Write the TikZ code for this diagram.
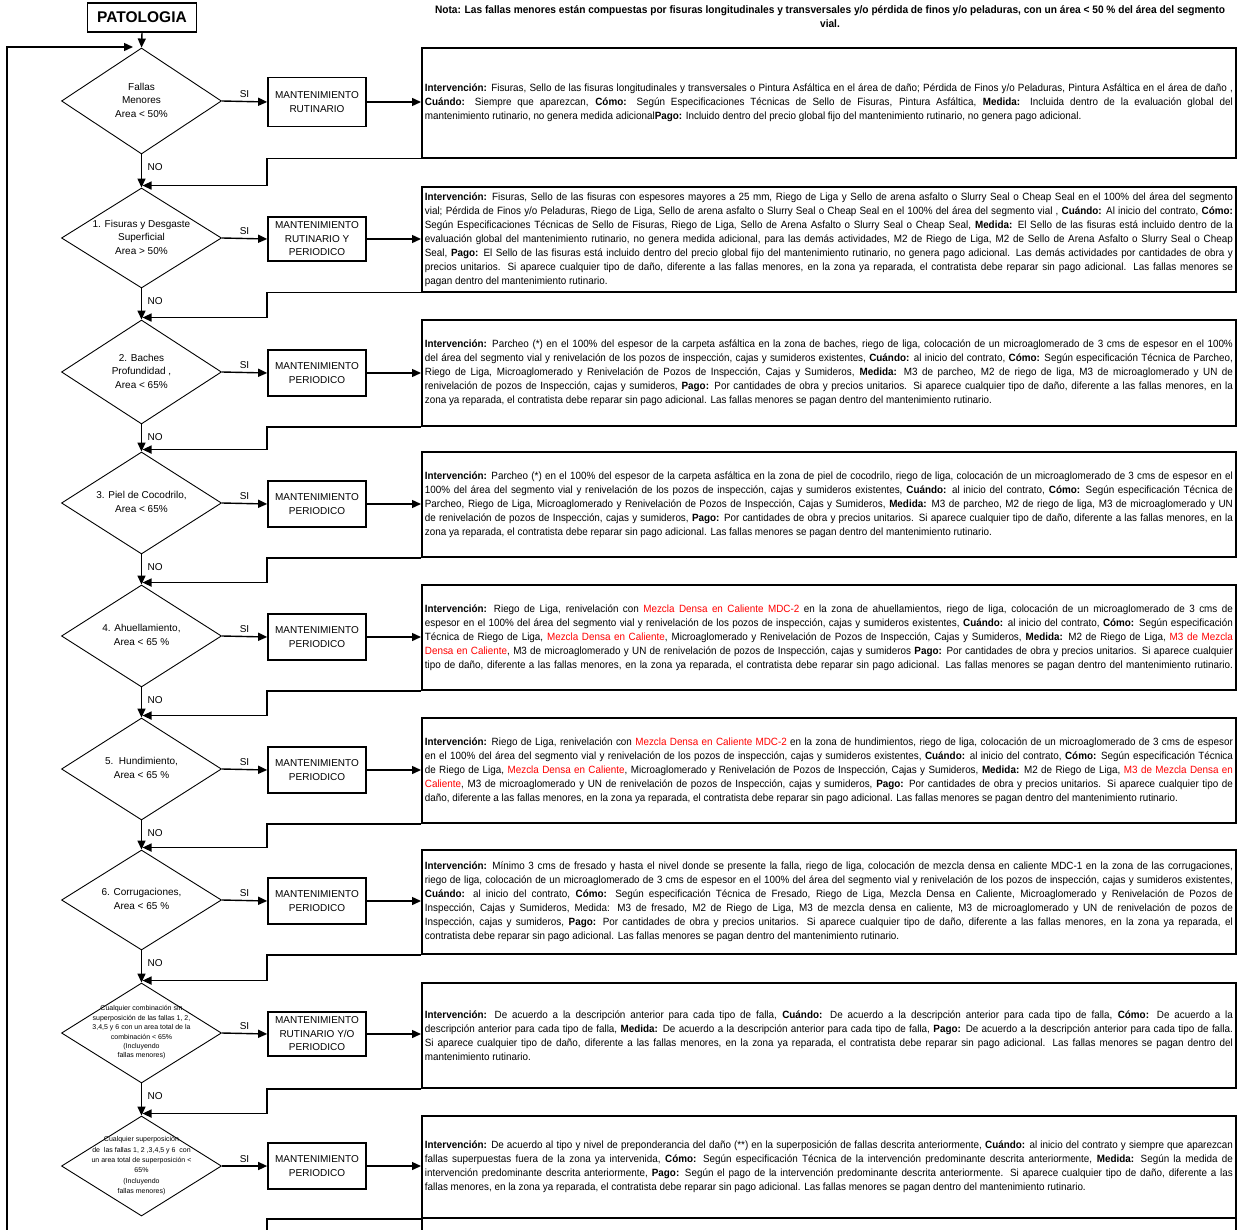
\documentclass[tikz,border=0pt]{standalone}
\usepackage{fontspec}
\setmainfont{Liberation Sans}
\newfontfamily\nfont[FakeStretch=0.94]{Liberation Sans}
\usetikzlibrary{shapes.geometric,arrows.meta}
\newcommand\B[1]{\textbf{#1}}
\newcommand\R[1]{\textcolor{red}{#1}}
\newcommand\JL[1]{\hbox to\hsize{#1}}
\newcommand\LL[1]{\hbox{#1}}
\newcommand\TB[1]{\parbox{808pt}{\nfont\fontsize{10.5}{14}\selectfont #1}}
\newcommand\DT[2]{\makebox[0pt]{\raisebox{\dimexpr 2pt-0.5\height\relax}[0pt][0pt]{#1\begin{tabular}[b]{@{}c@{}}#2\end{tabular}}}}
\newcommand\dfont{\fontsize{10}{13.5}\selectfont}
\newcommand\sdfont{\fontsize{7}{9.4}\selectfont}
\newcommand\sdfontb{\fontsize{7}{10.4}\selectfont}
\tikzset{
  conn/.style={line width=1.4pt,-{Triangle[length=9pt,width=8pt]}},
  plain/.style={line width=1.4pt},
  dec/.style={draw,diamond,line width=0.9pt,minimum width=160pt,inner sep=0pt},
  proc/.style={draw,line width=1.7pt,minimum width=98pt,inner sep=0pt,align=center,font=\fontsize{10}{13.5}\selectfont},
  tbox/.style={draw,line width=1.8pt,minimum width=814pt,inner sep=0pt,anchor=north west},
  lab/.style={font=\fontsize{10}{12}\selectfont,inner sep=0pt}
}
\begin{document}
\begin{tikzpicture}[x=1pt,y=-1pt]
\fill[white] (0,0) rectangle (1244,1230);
\useasboundingbox (0,0) rectangle (1244,1230);

% title and note
\node[draw,line width=1.8pt,minimum width=109pt,minimum height=29pt,inner sep=0pt,font=\fontsize{15.5}{18}\selectfont\bfseries] (pat) at (142,17.5) {PATOLOGIA};
\node[inner sep=0pt] (nota) at (830,17) {\parbox{815pt}{\centering\nfont\bfseries\fontsize{10.8}{14}\selectfont Nota: Las fallas menores están compuestas por fisuras longitudinales y transversales y/o pérdida de finos y/o peladuras, con un área < 50 \% del área del segmento\\vial.}};

% decisions
\node[dec,minimum height=106pt] (d1) at (141.5,101) {\DT{\dfont}{Fallas\\Menores\\Area < 50\%}};
\node[dec,minimum height=100pt] (d2) at (141.5,238) {\DT{\dfont}{1. Fisuras y Desgaste\\Superficial\\Area > 50\%}};
\node[dec,minimum height=104pt] (d3) at (141.5,372) {\DT{\dfont}{2. Baches\\Profundidad ,\\Area < 65\%}};
\node[dec,minimum height=102pt] (d4) at (141.5,503) {\DT{\dfont}{3. Piel de Cocodrilo,\\Area < 65\%}};
\node[dec,minimum height=102pt] (d5) at (141.5,636) {\DT{\dfont}{4. Ahuellamiento,\\Area < 65 \%}};
\node[dec,minimum height=102pt] (d6) at (141.5,769) {\DT{\dfont}{5.\ \ Hundimiento,\\Area < 65 \%}};
\node[dec,minimum height=100pt] (d7) at (141.5,900) {\DT{\dfont}{6. Corrugaciones,\\Area < 65 \%}};
\node[dec,minimum height=100pt] (d8) at (141.5,1033) {\DT{\sdfont}{Cualquier combinación sin\\superposición de las fallas 1, 2,\\3,4,5 y 6 con un area total de la\\combinación < 65\%\\(Incluyendo\\fallas menores)}};
\node[dec,minimum height=100pt] (d9) at (141.5,1166) {\DT{\sdfontb}{Cualquier superposición\\de\ \ las fallas 1, 2 ,3,4,5 y 6\ \ con\\un area total de superposición <\\65\%\\(Incluyendo\\fallas menores)}};

% process boxes
\node[proc,minimum height=49pt] (p1) at (317,102) {MANTENIMIENTO\\RUTINARIO};
\node[proc,minimum height=44pt] (p2) at (317,239) {MANTENIMIENTO\\RUTINARIO Y\\PERIODICO};
\node[proc,minimum height=46pt] (p3) at (317,373) {MANTENIMIENTO\\PERIODICO};
\node[proc,minimum height=46pt] (p4) at (317,504) {MANTENIMIENTO\\PERIODICO};
\node[proc,minimum height=46pt] (p5) at (317,637) {MANTENIMIENTO\\PERIODICO};
\node[proc,minimum height=46pt] (p6) at (317,770) {MANTENIMIENTO\\PERIODICO};
\node[proc,minimum height=46pt] (p7) at (317,901) {MANTENIMIENTO\\PERIODICO};
\node[proc,minimum height=44pt] (p8) at (317,1034) {MANTENIMIENTO\\RUTINARIO Y/O\\PERIODICO};
\node[proc,minimum height=46pt] (p9) at (317,1166) {MANTENIMIENTO\\PERIODICO};

% text boxes
\node[tbox,minimum height=110pt] (t1) at (421,47) {\TB{%
\JL{\B{Intervención:} Fisuras, Sello de las fisuras longitudinales y transversales o Pintura Asfáltica en el área de daño; Pérdida de Finos y/o Peladuras, Pintura Asfáltica en el área de daño ,}
\JL{\B{Cuándo:} Siempre que aparezcan, \B{Cómo:} Según Especificaciones Técnicas de Sello de Fisuras, Pintura Asfáltica, \B{Medida:} Incluida dentro de la evaluación global del}
\LL{mantenimiento rutinario, no genera medida adicional\B{Pago:} Incluido dentro del precio global fijo del mantenimiento rutinario, no genera pago adicional.}}};

\node[tbox,minimum height=105pt] (t2) at (421,186) {\TB{%
\JL{\B{Intervención:} Fisuras, Sello de las fisuras con espesores mayores a 25 mm, Riego de Liga y Sello de arena asfalto o Slurry Seal o Cheap Seal en el 100\% del área del segmento}
\JL{vial; Pérdida de Finos y/o Peladuras, Riego de Liga, Sello de arena asfalto o Slurry Seal o Cheap Seal en el 100\% del área del segmento vial , \B{Cuándo:} Al inicio del contrato, \B{Cómo:}}
\JL{Según Especificaciones Técnicas de Sello de Fisuras, Riego de Liga, Sello de Arena Asfalto o Slurry Seal o Cheap Seal, \B{Medida:} El Sello de las fisuras está incluido dentro de la}
\JL{evaluación global del mantenimiento rutinario, no genera medida adicional, para las demás actividades, M2 de Riego de Liga, M2 de Sello de Arena Asfalto o Slurry Seal o Cheap}
\JL{Seal, \B{Pago:} El Sello de las fisuras está incluido dentro del precio global fijo del mantenimiento rutinario, no genera pago adicional. Las demás actividades por cantidades de obra y}
\JL{precios unitarios. Si aparece cualquier tipo de daño, diferente a las fallas menores, en la zona ya reparada, el contratista debe reparar sin pago adicional. Las fallas menores se}
\LL{pagan dentro del mantenimiento rutinario.}}};

\node[tbox,minimum height=106pt] (t3) at (421,319) {\TB{%
\JL{\B{Intervención:} Parcheo (*) en el 100\% del espesor de la carpeta asfáltica en la zona de baches, riego de liga, colocación de un microaglomerado de 3 cms de espesor en el 100\%}
\JL{del área del segmento vial y renivelación de los pozos de inspección, cajas y sumideros existentes, \B{Cuándo:} al inicio del contrato, \B{Cómo:} Según especificación Técnica de Parcheo,}
\JL{Riego de Liga, Microaglomerado y Renivelación de Pozos de Inspección, Cajas y Sumideros, \B{Medida:} M3 de parcheo, M2 de riego de liga, M3 de microaglomerado y UN de}
\JL{renivelación de pozos de Inspección, cajas y sumideros, \B{Pago:} Por cantidades de obra y precios unitarios. Si aparece cualquier tipo de daño, diferente a las fallas menores, en la}
\LL{zona ya reparada, el contratista debe reparar sin pago adicional. Las fallas menores se pagan dentro del mantenimiento rutinario.}}};

\node[tbox,minimum height=105pt] (t4) at (421,451) {\TB{%
\JL{\B{Intervención:} Parcheo (*) en el 100\% del espesor de la carpeta asfáltica en la zona de piel de cocodrilo, riego de liga, colocación de un microaglomerado de 3 cms de espesor en el}
\JL{100\% del área del segmento vial y renivelación de los pozos de inspección, cajas y sumideros existentes, \B{Cuándo:} al inicio del contrato, \B{Cómo:} Según especificación Técnica de}
\JL{Parcheo, Riego de Liga, Microaglomerado y Renivelación de Pozos de Inspección, Cajas y Sumideros, \B{Medida:} M3 de parcheo, M2 de riego de liga, M3 de microaglomerado y UN}
\JL{de renivelación de pozos de Inspección, cajas y sumideros, \B{Pago:} Por cantidades de obra y precios unitarios. Si aparece cualquier tipo de daño, diferente a las fallas menores, en la}
\LL{zona ya reparada, el contratista debe reparar sin pago adicional. Las fallas menores se pagan dentro del mantenimiento rutinario.}}};

\node[tbox,minimum height=105pt] (t5) at (421,584) {\TB{%
\JL{\B{Intervención:} Riego de Liga, renivelación con \R{Mezcla Densa en Caliente MDC-2} en la zona de ahuellamientos, riego de liga, colocación de un microaglomerado de 3 cms de}
\JL{espesor en el 100\% del área del segmento vial y renivelación de los pozos de inspección, cajas y sumideros existentes, \B{Cuándo:} al inicio del contrato, \B{Cómo:} Según especificación}
\JL{Técnica de Riego de Liga, \R{Mezcla Densa en Caliente}, Microaglomerado y Renivelación de Pozos de Inspección, Cajas y Sumideros, \B{Medida:} M2 de Riego de Liga, \R{M3 de Mezcla}}
\JL{\R{Densa en Caliente}, M3 de microaglomerado y UN de renivelación de pozos de Inspección, cajas y sumideros \B{Pago:} Por cantidades de obra y precios unitarios. Si aparece cualquier}
\JL{tipo de daño, diferente a las fallas menores, en la zona ya reparada, el contratista debe reparar sin pago adicional. Las fallas menores se pagan dentro del mantenimiento rutinario.}}};

\node[tbox,minimum height=105pt] (t6) at (421,717) {\TB{%
\JL{\B{Intervención:} Riego de Liga, renivelación con \R{Mezcla Densa en Caliente MDC-2} en la zona de hundimientos, riego de liga, colocación de un microaglomerado de 3 cms de espesor}
\JL{en el 100\% del área del segmento vial y renivelación de los pozos de inspección, cajas y sumideros existentes, \B{Cuándo:} al inicio del contrato, \B{Cómo:} Según especificación Técnica}
\JL{de Riego de Liga, \R{Mezcla Densa en Caliente}, Microaglomerado y Renivelación de Pozos de Inspección, Cajas y Sumideros, \B{Medida:} M2 de Riego de Liga, \R{M3 de Mezcla Densa en}}
\JL{\R{Caliente}, M3 de microaglomerado y UN de renivelación de pozos de Inspección, cajas y sumideros, \B{Pago:} Por cantidades de obra y precios unitarios. Si aparece cualquier tipo de}
\LL{daño, diferente a las fallas menores, en la zona ya reparada, el contratista debe reparar sin pago adicional. Las fallas menores se pagan dentro del mantenimiento rutinario.}}};

\node[tbox,minimum height=104pt] (t7) at (421,849) {\TB{%
\JL{\B{Intervención:} Mínimo 3 cms de fresado y hasta el nivel donde se presente la falla, riego de liga, colocación de mezcla densa en caliente MDC-1 en la zona de las corrugaciones,}
\JL{riego de liga, colocación de un microaglomerado de 3 cms de espesor en el 100\% del área del segmento vial y renivelación de los pozos de inspección, cajas y sumideros existentes,}
\JL{\B{Cuándo:} al inicio del contrato, \B{Cómo:} Según especificación Técnica de Fresado, Riego de Liga, Mezcla Densa en Caliente, Microaglomerado y Renivelación de Pozos de}
\JL{Inspección, Cajas y Sumideros, Medida: M3 de fresado, M2 de Riego de Liga, M3 de mezcla densa en caliente, M3 de microaglomerado y UN de renivelación de pozos de}
\JL{Inspección, cajas y sumideros, \B{Pago:} Por cantidades de obra y precios unitarios. Si aparece cualquier tipo de daño, diferente a las fallas menores, en la zona ya reparada, el}
\LL{contratista debe reparar sin pago adicional. Las fallas menores se pagan dentro del mantenimiento rutinario.}}};

\node[tbox,minimum height=105pt] (t8) at (421,982) {\TB{%
\JL{\B{Intervención:} De acuerdo a la descripción anterior para cada tipo de falla, \B{Cuándo:} De acuerdo a la descripción anterior para cada tipo de falla, \B{Cómo:} De acuerdo a la}
\JL{descripción anterior para cada tipo de falla, \B{Medida:} De acuerdo a la descripción anterior para cada tipo de falla, \B{Pago:} De acuerdo a la descripción anterior para cada tipo de falla.}
\JL{Si aparece cualquier tipo de daño, diferente a las fallas menores, en la zona ya reparada, el contratista debe reparar sin pago adicional. Las fallas menores se pagan dentro del}
\LL{mantenimiento rutinario.}}};

\node[tbox,minimum height=102pt] (t9) at (421,1115) {\TB{%
\JL{\B{Intervención:} De acuerdo al tipo y nivel de preponderancia del daño (**) en la superposición de fallas descrita anteriormente, \B{Cuándo:} al inicio del contrato y siempre que aparezcan}
\JL{fallas superpuestas fuera de la zona ya intervenida, \B{Cómo:} Según especificación Técnica de la intervención predominante descrita anteriormente, \B{Medida:} Según la medida de}
\JL{intervención predominante descrita anteriormente, \B{Pago:} Según el pago de la intervención predominante descrita anteriormente. Si aparece cualquier tipo de daño, diferente a las}
\LL{fallas menores, en la zona ya reparada, el contratista debe reparar sin pago adicional. Las fallas menores se pagan dentro del mantenimiento rutinario.}}};

\node[tbox,minimum height=40pt] (t10) at (421,1217) {};

% flow
\draw[conn] (pat.south) -- (d1.north);
\coordinate (fbs) at (7,1230);
\coordinate (fbe) at (133,47);
\draw[conn] (fbs) |- (fbe);

\foreach \i/\j in {1/2,2/3,3/4,4/5,5/6,6/7,7/8,8/9}{
  \coordinate (m\j) at ([yshift=2pt]d\j.north);
  \draw[conn] (d\i.south) -- (d\j.north);
  \node[lab,anchor=west] (no\i) at ([xshift=6pt,yshift=-13pt]d\i.south) {NO};
  \draw[conn,shorten >=1pt] (t\i.south west) -- (t\i.south west -| p\i.west) |- (m\j);
}
\draw[plain] (t9.south west) -- (t9.south west -| p9.west) -- (p9.west |- fbs);
\foreach \i in {1,...,9}{
  \draw[conn] (d\i.east) -- (p\i.west) node[midway,above=3pt,lab] (si\i) {SI};
  \draw[conn] (p\i.east) -- (p\i.east -| t\i.west);
}
\end{tikzpicture}
\end{document}
